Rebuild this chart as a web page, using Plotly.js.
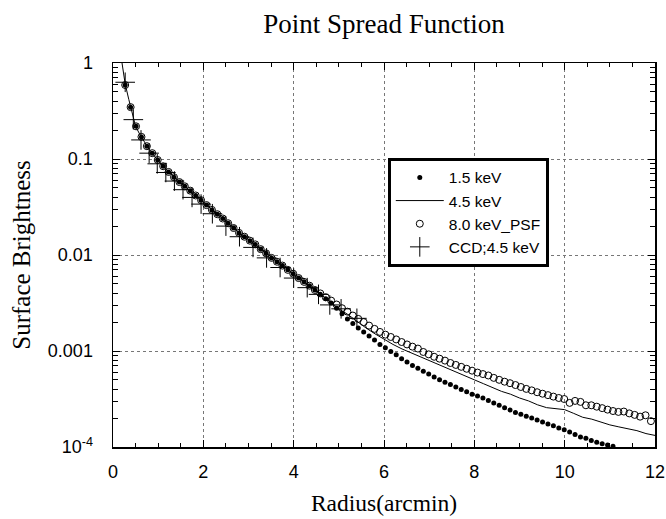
<!DOCTYPE html>
<html>
<head>
<meta charset="utf-8">
<script src="https://cdn.plot.ly/plotly-3.0.1.min.js"></script>
<style>html,body{margin:0;padding:0;background:#fff;}#chart{width:666px;height:519px;}</style>
</head>
<body>
<div id="chart"></div>
<script>
// Radius (arcmin) sample positions
var markX = [0.27,0.39,0.51,0.63,0.75,0.87,0.99,1.11,1.23,1.35,1.47,1.59,1.71,1.83,1.95,2.07,2.19,2.31,2.43,2.55,2.67,2.79,2.91,3.03,3.15,3.27,3.39,3.51,3.63,3.75,3.87,3.99,4.11,4.23,4.35,4.47,4.59,4.71,4.83,4.95,5.07,5.19,5.31,5.43,5.55,5.67,5.79,5.91,6.03,6.15,6.27,6.39,6.51,6.63,6.75,6.87,6.99,7.11,7.23,7.35,7.47,7.59,7.71,7.83,7.95,8.07,8.19,8.31,8.43,8.55,8.67,8.79,8.91,9.03,9.15,9.27,9.39,9.51,9.63,9.75,9.87,9.99,10.11,10.23,10.35,10.47,10.59,10.71,10.83,10.95,11.07,11.19,11.31,11.43,11.55,11.67,11.79,11.91];

// 1.5 keV (filled dots)
var keV15 = [0.59,0.347,0.219,0.170,0.136,0.115,0.0977,0.0841,0.0733,0.0646,0.0575,0.0519,0.0468,0.0417,0.0372,0.0331,0.0295,0.0266,0.0240,0.0214,0.0191,0.0170,0.0155,0.0141,0.0129,0.0115,0.0104,0.00933,0.00851,0.00776,0.00700,0.00638,0.00575,0.00525,0.00479,0.00432,
  0.00389,0.00351,0.00316,0.00279,0.00245,0.00216,0.00193,0.00174,0.00158,0.00143,0.00130,0.00117,0.00108,0.000989,0.000912,0.000832,0.000767,0.000708,0.000661,0.000617,0.000575,0.000537,0.000501,0.000473,0.000447,0.000422,0.000398,0.000376,0.000355,0.000339,0.000324,0.000305,0.000288,0.000272,0.000257,0.000243,0.000229,0.000219,0.000209,0.000200,0.000191,0.000182,0.000174,0.000166,0.000158,0.000151,0.000143,0.000135,0.000127,0.000123,0.000117,0.000112,0.000108,0.000105,0.000102];

// 4.5 keV (solid line)
var lineX = [0.2,0.27,0.35,0.4,0.5,0.6,0.7,0.8,0.9,1.0,1.2,1.4,1.6,1.8,2.0,2.2,2.4,2.6,2.8,3.0,3.2,3.4,3.6,3.8,4.0,4.2,4.4,4.6,4.8,5.0,5.2,5.4,5.6,5.8,6.0,6.2,6.4,6.6,6.8,7.0,7.2,7.4,7.6,7.8,8.0,8.2,8.4,8.6,8.8,9.0,9.2,9.4,9.6,9.8,10.0,10.2,10.4,10.6,10.8,11.0,11.2,11.4,11.6,11.8,12.0];
var keV45 = [1.0,0.603,0.417,0.331,0.219,0.178,0.148,0.126,0.110,0.0955,0.0759,0.0617,0.0513,0.0427,0.0355,0.0295,0.0245,0.0204,0.0170,0.0145,0.0123,0.0102,0.00871,0.00741,0.00631,0.00537,0.00457,0.00389,0.00324,0.00275,0.00240,0.00204,0.00174,0.00151,0.00132,0.00117,0.00105,0.000955,0.000871,0.000794,0.000724,0.000661,0.000603,0.000550,0.000501,0.000457,0.000417,0.000380,0.000355,0.000324,0.000302,0.000275,0.000257,0.000251,0.000245,0.000224,0.000204,0.000195,0.000182,0.000170,0.000162,0.000155,0.000148,0.000138,0.000132];

// 8.0 keV_PSF (open circles)
var keV80 = [0.59,0.347,0.219,0.170,0.136,0.115,0.0977,0.0841,0.0733,0.0646,0.0575,0.0519,0.0468,0.0417,0.0372,0.0331,0.0295,0.0266,0.0240,0.0214,0.0191,0.0170,0.0155,0.0141,0.0129,0.0115,0.0104,0.00933,0.00851,0.00776,0.00700,0.00638,0.00575,0.00525,0.00479,0.00432,
  0.00398,0.00363,0.00335,0.00305,0.00279,0.00257,0.00234,0.00216,0.00200,0.00184,0.00170,0.00158,0.00148,0.00140,0.00132,0.00124,0.00117,0.00111,0.00106,0.000977,0.000923,0.000871,0.000832,0.000794,0.000750,0.000716,0.000684,0.000653,0.000624,0.000596,0.000575,0.000556,0.000525,0.000501,0.000479,0.000462,0.000442,0.000422,0.000403,0.000389,0.000372,0.000359,0.000347,0.000335,0.000324,0.000316,0.000288,0.000302,0.000295,0.000272,0.000272,0.000263,0.000254,0.000245,0.000237,0.000232,0.000234,0.000224,0.000216,0.000207,0.000214,0.000186];

// CCD;4.5 keV (crosses)
var ccdX = [0.27,0.45,0.62,0.8,0.98,1.17,1.36,1.55,1.75,1.95,2.2,2.5,2.8,3.1,3.4,3.7,4.0,4.3,4.55,4.8,5.05,5.4];
var ccd45 = [0.63,0.257,0.158,0.115,0.0891,0.0724,0.0589,0.0479,0.0398,0.0339,0.0269,0.0200,0.0155,0.0120,0.00933,0.00741,0.00575,0.00457,0.00389,0.00302,0.00275,0.00219];

var seriesNames = ['1.5 keV','4.5 keV','8.0 keV_PSF','CCD;4.5 keV'];
var yTickVals = [1e-4,1e-3,0.01,0.1,1];
var yTickText = ['10<sup>-4</sup>','0.001','0.01','0.1','1'];
var xTickVals = [0,2,4,6,8,10,12];

var minorY = [];
for (var e = -4; e < 0; e++) { for (var d = 2; d <= 9; d++) { minorY.push(d * Math.pow(10, e)); } }

var traces = [
  {x: markX.slice(0, keV15.length), y: keV15, name: seriesNames[0], type: 'scatter', mode: 'markers',
   marker: {symbol: 'circle', size: 5, color: '#000'}},
  {x: lineX, y: keV45, name: seriesNames[1], type: 'scatter', mode: 'lines',
   line: {color: '#000', width: 1}},
  {x: markX, y: keV80, name: seriesNames[2], type: 'scatter', mode: 'markers',
   marker: {symbol: 'circle-open', size: 7, color: '#000', line: {width: 1, color: '#000'}}},
  {x: ccdX, y: ccd45, name: seriesNames[3], type: 'scatter', mode: 'markers',
   marker: {symbol: 'cross-thin-open', size: 14, color: '#000', line: {width: 1, color: '#000'}}}
];

var serif = '"Liberation Serif", "Times New Roman", serif';
var sans = '"Liberation Sans", Arial, sans-serif';

var layout = {
  width: 666, height: 519,
  margin: {l: 113, r: 11, t: 63, b: 72},
  paper_bgcolor: '#fff', plot_bgcolor: '#fff',
  font: {family: sans, color: '#000', size: 18},
  title: {text: 'Point Spread Function', x: 0.5, xref: 'paper', y: 0.955, yref: 'container', yanchor: 'middle',
    font: {family: serif, size: 27, color: '#000'}},
  showlegend: true,
  legend: {x: 0.507, y: 0.753, xanchor: 'left', yanchor: 'top', bgcolor: '#fff', bordercolor: '#000', borderwidth: 3,
    itemwidth: 48, font: {family: sans, size: 15.5, color: '#000'}, tracegroupgap: 0},
  xaxis: {
    range: [0, 12], tickmode: 'array', tickvals: xTickVals, ticktext: xTickVals.map(String),
    ticks: 'inside', ticklen: 7, tickcolor: '#000', showline: true, linecolor: '#000', linewidth: 1.5,
    mirror: 'allticks', showgrid: true, gridcolor: '#777', griddash: 'dot', gridwidth: 1, zeroline: false,
    ticklabelstandoff: 8,
    minor: {dtick: 0.5, tick0: 0, ticks: 'inside', ticklen: 4, tickcolor: '#000', showgrid: false},
    title: {text: 'Radius(arcmin)', standoff: 13, font: {family: serif, size: 23.5, color: '#000'}}
  },
  yaxis: {
    type: 'log', range: [-4, 0], tickmode: 'array', tickvals: yTickVals, ticktext: yTickText,
    ticks: 'inside', ticklen: 7, tickcolor: '#000', showline: true, linecolor: '#000', linewidth: 1.5,
    mirror: 'allticks', showgrid: true, gridcolor: '#777', griddash: 'dot', gridwidth: 1, zeroline: false,
    ticklabelstandoff: 15,
    minor: {tickmode: 'array', tickvals: minorY, ticks: 'inside', ticklen: 5, tickcolor: '#000', showgrid: false},
    title: {text: 'Surface Brightness', standoff: 10, font: {family: serif, size: 25, color: '#000'}}
  }
};

Plotly.newPlot('chart', traces, layout, {displayModeBar: false, staticPlot: true});
</script>
</body>
</html>
